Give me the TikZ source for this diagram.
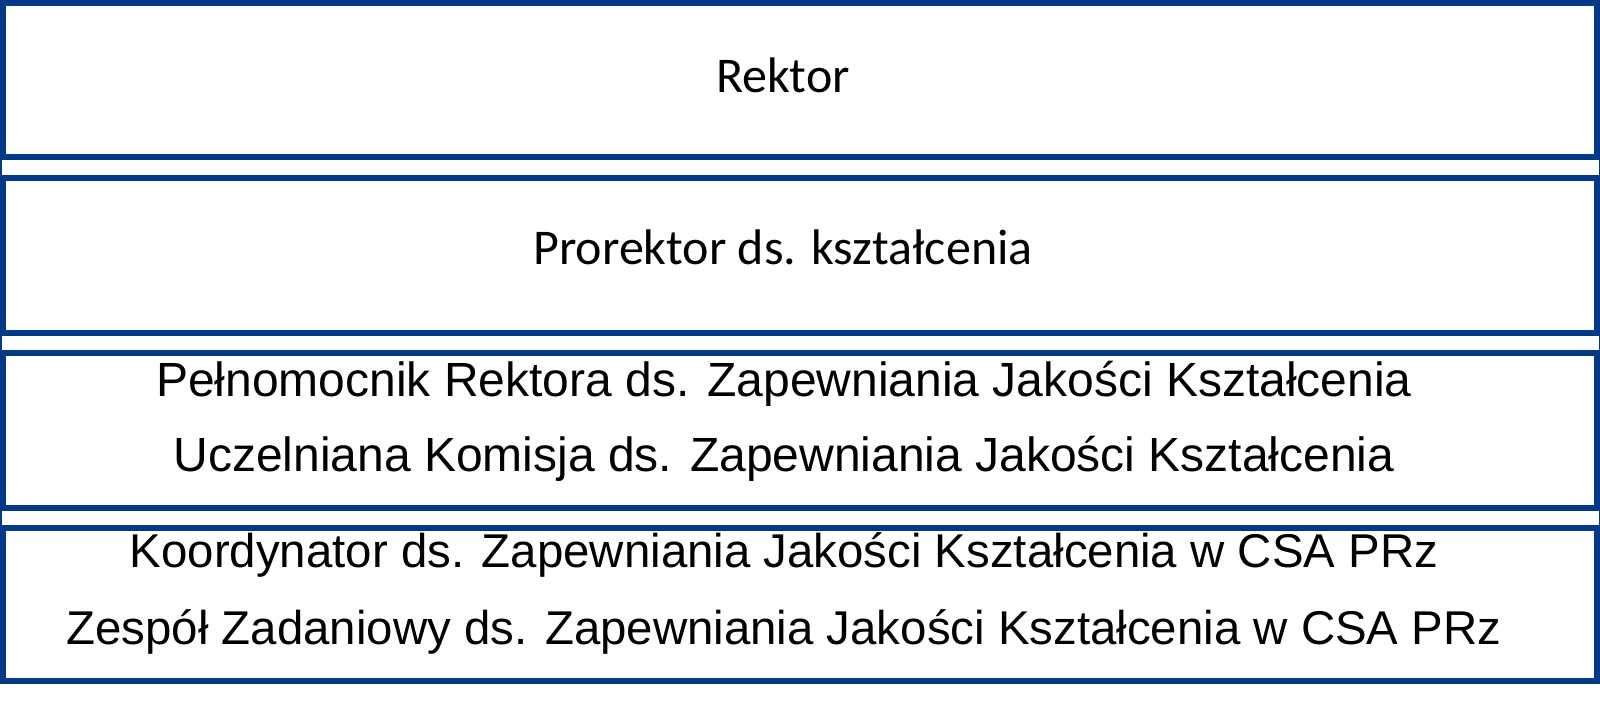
\documentclass[tikz,border=0pt]{standalone}
\usepackage{fontspec}
\setmainfont{Liberation Sans}
\newfontfamily\carl{Carlito}
\definecolor{frame}{RGB}{3,56,133}
\begin{document}
\begin{tikzpicture}[x=0.5pt,y=-0.5pt,
  box/.style={draw=frame, line width=2.8pt, inner sep=0pt, minimum width=797.2pt},
  lab/.style={anchor=base, inner sep=0pt, text=black},
  topfont/.style={font=\carl\fontsize{25}{30}\selectfont},
  midfont/.style={font=\fontsize{24}{29}\selectfont},
  lowfont/.style={font=\fontsize{23.7}{28.5}\selectfont}]
\useasboundingbox (0,0) rectangle (1600,705);
\draw[frame, line width=0.75pt] (0.75,0) -- (0.75,684);
\draw[frame, line width=0.75pt] (1599.25,0) -- (1599.25,684);
\node[box, minimum height=77.2pt] (b1) at (800,80) {};
\node[box, minimum height=77.55pt] (b2) at (800,255.35) {};
\node[box, minimum height=77.55pt] (b3) at (800,430.35) {};
\node[box, minimum height=76.7pt] (b4) at (800,604.5) {};
\node[lab, topfont] (t1) at (783,93) {Rektor};
\node[lab, topfont] (t2) at (783,265) {Prorektor ds. kształcenia};
\node[lab, midfont] (t3a) at (784,397) {Pełnomocnik Rektora ds. Zapewniania Jakości Kształcenia};
\node[lab, midfont] (t3b) at (784,471) {Uczelniana Komisja ds. Zapewniania Jakości Kształcenia};
\node[lab, lowfont] (t4a) at (784,567) {Koordynator ds. Zapewniania Jakości Kształcenia w CSA PRz};
\node[lab, lowfont] (t4b) at (784,644) {Zespół Zadaniowy ds. Zapewniania Jakości Kształcenia w CSA PRz};
\end{tikzpicture}
\end{document}
